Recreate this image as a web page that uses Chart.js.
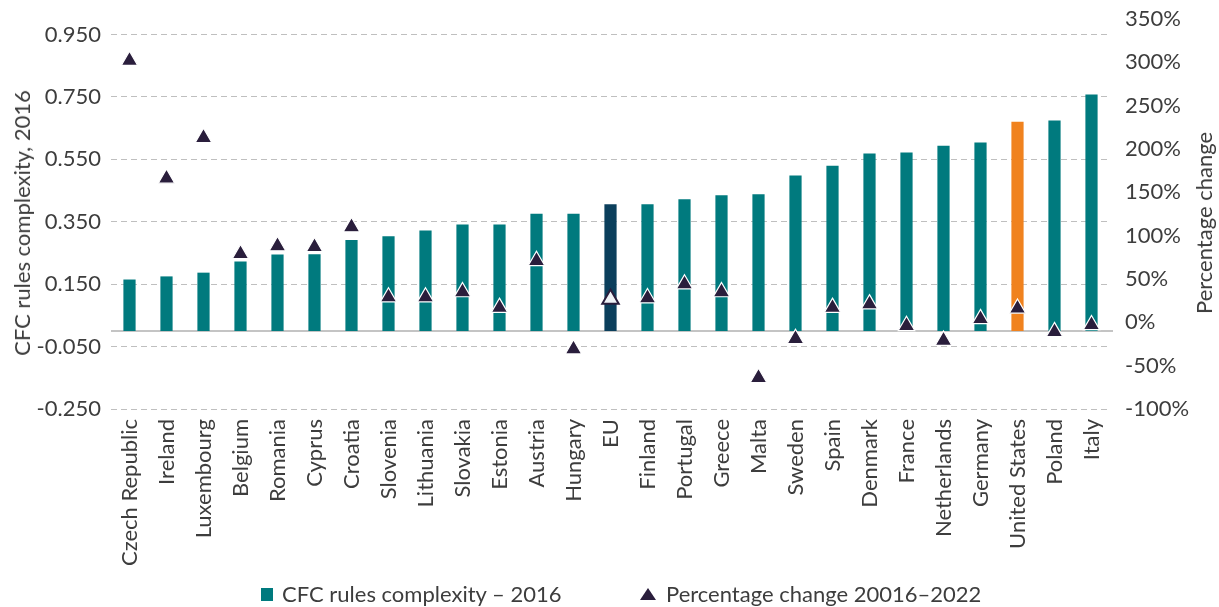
<!DOCTYPE html>
<html><head><meta charset="utf-8">
<script src="https://cdn.jsdelivr.net/npm/chart.js@4/dist/chart.umd.min.js"></script>
<style>
html,body{margin:0;padding:0;background:#fff;}
#wrap{position:relative;width:1219px;height:607px;font-family:Lato,sans-serif;color:#3d3d3d;}
canvas{position:absolute;left:0;top:0;}
.ytitle{position:absolute;font-size:22px;line-height:22px;white-space:nowrap;transform:translate(-50%,-50%) rotate(-90deg);}
.leg{position:absolute;top:582px;font-size:22px;line-height:24px;white-space:nowrap;display:flex;align-items:center;}
.sq{display:inline-block;width:12px;height:13px;background:#007A7E;margin-right:9px;}
</style></head>
<body><div id="wrap"><canvas id="c" width="1219" height="607"></canvas>
<div class="ytitle" style="left:22px;top:223px">CFC rules complexity, 2016</div>
<div class="ytitle" style="left:1204px;top:223px">Percentage change</div>
<div class="leg" style="left:261px"><span class="sq"></span>CFC rules complexity – 2016</div>
<div class="leg" style="left:640px"><svg width="16" height="12" style="margin-right:10px"><polygon points="8,0 16,12 0,12" fill="#2A1E3C"/></svg>Percentage change 20016–2022</div>
</div>
<script>
const categories = ['Czech Republic','Ireland','Luxembourg','Belgium','Romania','Cyprus','Croatia','Slovenia','Lithuania','Slovakia','Estonia','Austria','Hungary','EU','Finland','Portugal','Greece','Malta','Sweden','Spain','Denmark','France','Netherlands','Germany','United States','Poland','Italy'];
const complexity2016 = [0.165,0.175,0.187,0.223,0.245,0.246,0.292,0.304,0.322,0.341,0.341,0.376,0.376,0.406,0.406,0.422,0.435,0.438,0.498,0.530,0.569,0.572,0.594,0.604,0.671,0.675,0.758];
const pctChange = [3.02,1.66,2.13,0.79,0.88,0.87,1.10,0.29,0.29,0.35,0.17,0.71,-0.31,0.27,0.28,0.44,0.35,-0.64,-0.19,0.17,0.21,-0.04,-0.21,0.04,0.16,-0.11,-0.03];
const leftTicks = [-0.25,-0.05,0.15,0.35,0.55,0.75,0.95];

const TEAL='#007A7E', EUC='#0B3F5C', USC='#F0821E', MARK='#2A1E3C';
const font = {family:'Lato', size:22};
const txt = '#3d3d3d';
const isEU = c => categories[c.dataIndex]==='EU';

const zeroLine = {id:'zeroLine', beforeDatasetsDraw(chart){
  const {ctx, chartArea:a, scales:{y}} = chart;
  const py = Math.round(y.getPixelForValue(0));
  ctx.save(); ctx.strokeStyle='#C4C4C4'; ctx.lineWidth=2;
  ctx.beginPath(); ctx.moveTo(a.left, py); ctx.lineTo(a.right+3, py); ctx.stroke(); ctx.restore();
}};

new Chart(document.getElementById('c'), {
  data: {
    labels: categories,
    datasets: [
      {type:'bar', label:'CFC rules complexity – 2016', data: complexity2016, yAxisID:'y', order:2,
       backgroundColor: c => isEU(c) ? EUC : (categories[c.dataIndex]==='United States' ? USC : TEAL),
       categoryPercentage:1, barPercentage:0.33},
      {type:'line', label:'Percentage change 20016–2022', data: pctChange, yAxisID:'y2', order:1, showLine:false,
       pointStyle:'triangle', pointRadius:9.5, pointHoverRadius:9.5,
       pointBorderWidth: c => isEU(c) ? 2 : 1.2,
       pointBackgroundColor: c => isEU(c) ? '#EEF2F6' : MARK,
       pointBorderColor: c => isEU(c) ? MARK : '#FFFFFF'}
    ]
  },
  options: {
    responsive:false, animation:false,
    layout:{padding:{top:19,bottom:0,left:0,right:0}},
    plugins:{legend:{display:false}, tooltip:{enabled:false}},
    scales:{
      x:{offset:true, grid:{display:false, drawTicks:false}, border:{display:false},
         ticks:{minRotation:90, maxRotation:90, autoSkip:false, padding:10, font, color:txt},
         afterFit(s){ s.height = 198; }},
      y:{position:'left', min:-0.25, max:1.0,
         afterBuildTicks(s){ s.ticks = leftTicks.map(v=>({value:v})); },
         ticks:{callback:v=>Number(v).toFixed(3), padding:10, font, color:txt},
         grid:{color:'#BFBFBF', lineWidth:1, drawTicks:false},
         border:{display:false, dash:[6,4]},
         afterFit(s){ s.width = 111; s.paddingTop = 0; s.paddingBottom = 0; }},
      y2:{position:'right', min:-1, max:3.5,
         ticks:{stepSize:0.5, callback:v=>Math.round(v*100)+'%', padding:15, font, color:txt},
         grid:{display:false, drawTicks:false}, border:{display:false},
         afterFit(s){ s.width = 109; s.paddingTop = 0; s.paddingBottom = 0; }}
    }
  },
  plugins:[zeroLine]
});
</script>
</body></html>
